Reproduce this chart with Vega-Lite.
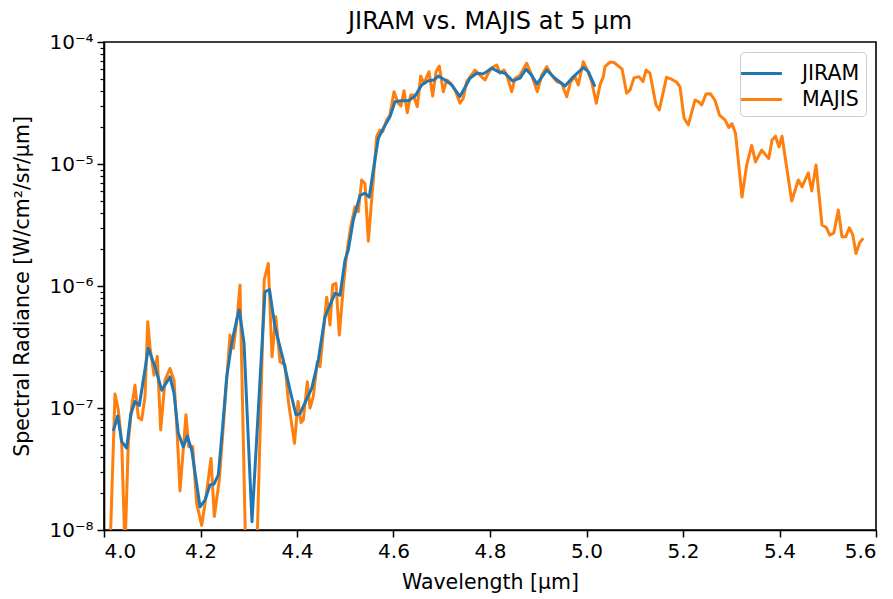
{
  "$schema": "https://vega.github.io/schema/vega-lite/v6.json",
  "width": 772,
  "height": 488,
  "autosize": {"type": "none"},
  "padding": {"left": 104, "top": 42, "right": 17, "bottom": 69},
  "background": "white",
  "title": {"text": "JIRAM vs. MAJIS at 5 μm", "fontSize": 24, "fontWeight": "normal", "font": "DejaVu Sans", "color": "black", "offset": -2},
  "config": {
    "font": "DejaVu Sans",
    "view": {"stroke": "black", "strokeWidth": 1.6},
    "axis": {"domainColor": "black", "domainWidth": 1.6, "tickColor": "black", "tickWidth": 1.5, "labelColor": "black", "titleColor": "black", "labelFontSize": 20, "titleFontSize": 20.5, "titleFontWeight": "normal", "labelFont": "DejaVu Sans", "titleFont": "DejaVu Sans", "tickSize": 7, "grid": false}
  },
  "resolve": {"axis": {"y": "independent"}},
  "layer": [
    {
      "data": {"values": [
        {"series":"MAJIS","wavelength":4.0010,"radiance":3e-9},
        {"series":"MAJIS","wavelength":4.0114,"radiance":5e-9},
        {"series":"MAJIS","wavelength":4.0228,"radiance":1.30e-7},
        {"series":"MAJIS","wavelength":4.0296,"radiance":9.65e-8},
        {"series":"MAJIS","wavelength":4.0367,"radiance":5.17e-8},
        {"series":"MAJIS","wavelength":4.0435,"radiance":7e-9},
        {"series":"MAJIS","wavelength":4.0504,"radiance":5.17e-8},
        {"series":"MAJIS","wavelength":4.0574,"radiance":1.02e-7},
        {"series":"MAJIS","wavelength":4.0642,"radiance":1.54e-7},
        {"series":"MAJIS","wavelength":4.0711,"radiance":8.4e-8},
        {"series":"MAJIS","wavelength":4.0781,"radiance":8.0e-8},
        {"series":"MAJIS","wavelength":4.0850,"radiance":1.24e-7},
        {"series":"MAJIS","wavelength":4.0906,"radiance":5.1e-7},
        {"series":"MAJIS","wavelength":4.0953,"radiance":3.18e-7},
        {"series":"MAJIS","wavelength":4.1036,"radiance":1.86e-7},
        {"series":"MAJIS","wavelength":4.1105,"radiance":2.65e-7},
        {"series":"MAJIS","wavelength":4.1175,"radiance":6.6e-8},
        {"series":"MAJIS","wavelength":4.1264,"radiance":1.69e-7},
        {"series":"MAJIS","wavelength":4.1368,"radiance":2.11e-7},
        {"series":"MAJIS","wavelength":4.1451,"radiance":1.69e-7},
        {"series":"MAJIS","wavelength":4.1513,"radiance":6.6e-8},
        {"series":"MAJIS","wavelength":4.1575,"radiance":2.09e-8},
        {"series":"MAJIS","wavelength":4.1699,"radiance":8.8e-8},
        {"series":"MAJIS","wavelength":4.1755,"radiance":4.83e-8},
        {"series":"MAJIS","wavelength":4.1838,"radiance":4.83e-8},
        {"series":"MAJIS","wavelength":4.1921,"radiance":1.65e-8},
        {"series":"MAJIS","wavelength":4.2025,"radiance":1.09e-8},
        {"series":"MAJIS","wavelength":4.2114,"radiance":1.87e-8},
        {"series":"MAJIS","wavelength":4.2218,"radiance":3.86e-8},
        {"series":"MAJIS","wavelength":4.2286,"radiance":1.29e-8},
        {"series":"MAJIS","wavelength":4.2390,"radiance":2.57e-8},
        {"series":"MAJIS","wavelength":4.2497,"radiance":9.65e-8},
        {"series":"MAJIS","wavelength":4.2611,"radiance":3.96e-7},
        {"series":"MAJIS","wavelength":4.2680,"radiance":3.09e-7},
        {"series":"MAJIS","wavelength":4.2763,"radiance":5.6e-7},
        {"series":"MAJIS","wavelength":4.2819,"radiance":1.02e-6},
        {"series":"MAJIS","wavelength":4.2943,"radiance":5e-9},
        {"series":"MAJIS","wavelength":4.3047,"radiance":3e-9},
        {"series":"MAJIS","wavelength":4.3165,"radiance":6e-9},
        {"series":"MAJIS","wavelength":4.3320,"radiance":1.12e-6},
        {"series":"MAJIS","wavelength":4.3405,"radiance":1.53e-6},
        {"series":"MAJIS","wavelength":4.3482,"radiance":2.63e-7},
        {"series":"MAJIS","wavelength":4.3560,"radiance":5.6e-7},
        {"series":"MAJIS","wavelength":4.3648,"radiance":2.39e-7},
        {"series":"MAJIS","wavelength":4.3751,"radiance":2.25e-7},
        {"series":"MAJIS","wavelength":4.3820,"radiance":1.14e-7},
        {"series":"MAJIS","wavelength":4.3948,"radiance":5.13e-8},
        {"series":"MAJIS","wavelength":4.4021,"radiance":1.13e-7},
        {"series":"MAJIS","wavelength":4.4083,"radiance":7.6e-8},
        {"series":"MAJIS","wavelength":4.4131,"radiance":8.0e-8},
        {"series":"MAJIS","wavelength":4.4214,"radiance":1.64e-7},
        {"series":"MAJIS","wavelength":4.4269,"radiance":1.0e-7},
        {"series":"MAJIS","wavelength":4.4338,"radiance":1.24e-7},
        {"series":"MAJIS","wavelength":4.4421,"radiance":2.39e-7},
        {"series":"MAJIS","wavelength":4.4477,"radiance":2.18e-7},
        {"series":"MAJIS","wavelength":4.4616,"radiance":8.1e-7},
        {"series":"MAJIS","wavelength":4.4684,"radiance":4.79e-7},
        {"series":"MAJIS","wavelength":4.4740,"radiance":1.02e-6},
        {"series":"MAJIS","wavelength":4.4808,"radiance":1.05e-6},
        {"series":"MAJIS","wavelength":4.4877,"radiance":3.96e-7},
        {"series":"MAJIS","wavelength":4.4960,"radiance":9.9e-7},
        {"series":"MAJIS","wavelength":4.5030,"radiance":1.85e-6},
        {"series":"MAJIS","wavelength":4.5109,"radiance":2.99e-6},
        {"series":"MAJIS","wavelength":4.5202,"radiance":4.47e-6},
        {"series":"MAJIS","wavelength":4.5271,"radiance":4.06e-6},
        {"series":"MAJIS","wavelength":4.5341,"radiance":7.4e-6},
        {"series":"MAJIS","wavelength":4.5409,"radiance":6.9e-6},
        {"series":"MAJIS","wavelength":4.5478,"radiance":2.33e-6},
        {"series":"MAJIS","wavelength":4.5569,"radiance":6.5e-6},
        {"series":"MAJIS","wavelength":4.5652,"radiance":1.68e-5},
        {"series":"MAJIS","wavelength":4.5720,"radiance":1.90e-5},
        {"series":"MAJIS","wavelength":4.5776,"radiance":1.84e-5},
        {"series":"MAJIS","wavelength":4.5859,"radiance":2.30e-5},
        {"series":"MAJIS","wavelength":4.5927,"radiance":2.52e-5},
        {"series":"MAJIS","wavelength":4.6010,"radiance":3.91e-5},
        {"series":"MAJIS","wavelength":4.6099,"radiance":3.15e-5},
        {"series":"MAJIS","wavelength":4.6155,"radiance":2.99e-5},
        {"series":"MAJIS","wavelength":4.6218,"radiance":3.99e-5},
        {"series":"MAJIS","wavelength":4.6286,"radiance":2.63e-5},
        {"series":"MAJIS","wavelength":4.6357,"radiance":3.68e-5},
        {"series":"MAJIS","wavelength":4.6410,"radiance":3.68e-5},
        {"series":"MAJIS","wavelength":4.6493,"radiance":2.95e-5},
        {"series":"MAJIS","wavelength":4.6564,"radiance":5.26e-5},
        {"series":"MAJIS","wavelength":4.6632,"radiance":4.59e-5},
        {"series":"MAJIS","wavelength":4.6736,"radiance":5.71e-5},
        {"series":"MAJIS","wavelength":4.6812,"radiance":3.61e-5},
        {"series":"MAJIS","wavelength":4.6881,"radiance":5.71e-5},
        {"series":"MAJIS","wavelength":4.6949,"radiance":6.35e-5},
        {"series":"MAJIS","wavelength":4.7032,"radiance":3.91e-5},
        {"series":"MAJIS","wavelength":4.7103,"radiance":4.88e-5},
        {"series":"MAJIS","wavelength":4.7186,"radiance":4.59e-5},
        {"series":"MAJIS","wavelength":4.7275,"radiance":4.04e-5},
        {"series":"MAJIS","wavelength":4.7378,"radiance":3.15e-5},
        {"series":"MAJIS","wavelength":4.7447,"radiance":3.46e-5},
        {"series":"MAJIS","wavelength":4.7517,"radiance":4.73e-5},
        {"series":"MAJIS","wavelength":4.7689,"radiance":5.89e-5},
        {"series":"MAJIS","wavelength":4.7793,"radiance":5.33e-5},
        {"series":"MAJIS","wavelength":4.7896,"radiance":4.88e-5},
        {"series":"MAJIS","wavelength":4.7965,"radiance":5.55e-5},
        {"series":"MAJIS","wavelength":4.8035,"radiance":6.15e-5},
        {"series":"MAJIS","wavelength":4.8139,"radiance":6.48e-5},
        {"series":"MAJIS","wavelength":4.8207,"radiance":5.55e-5},
        {"series":"MAJIS","wavelength":4.8290,"radiance":5.89e-5},
        {"series":"MAJIS","wavelength":4.8359,"radiance":5.2e-5},
        {"series":"MAJIS","wavelength":4.8450,"radiance":3.91e-5},
        {"series":"MAJIS","wavelength":4.8518,"radiance":5.05e-5},
        {"series":"MAJIS","wavelength":4.8622,"radiance":5.33e-5},
        {"series":"MAJIS","wavelength":4.8761,"radiance":6.7e-5},
        {"series":"MAJIS","wavelength":4.8864,"radiance":5.33e-5},
        {"series":"MAJIS","wavelength":4.8980,"radiance":3.91e-5},
        {"series":"MAJIS","wavelength":4.9071,"radiance":5.33e-5},
        {"series":"MAJIS","wavelength":4.9175,"radiance":6.28e-5},
        {"series":"MAJIS","wavelength":4.9279,"radiance":5.33e-5},
        {"series":"MAJIS","wavelength":4.9382,"radiance":4.73e-5},
        {"series":"MAJIS","wavelength":4.9486,"radiance":4.59e-5},
        {"series":"MAJIS","wavelength":4.9590,"radiance":3.56e-5},
        {"series":"MAJIS","wavelength":4.9673,"radiance":4.73e-5},
        {"series":"MAJIS","wavelength":4.9762,"radiance":5.2e-5},
        {"series":"MAJIS","wavelength":4.9830,"radiance":4.45e-5},
        {"series":"MAJIS","wavelength":4.9934,"radiance":6.9e-5},
        {"series":"MAJIS","wavelength":5.0017,"radiance":5.89e-5},
        {"series":"MAJIS","wavelength":5.0107,"radiance":4.73e-5},
        {"series":"MAJIS","wavelength":5.0203,"radiance":3.15e-5},
        {"series":"MAJIS","wavelength":5.0280,"radiance":4.45e-5},
        {"series":"MAJIS","wavelength":5.0348,"radiance":5.2e-5},
        {"series":"MAJIS","wavelength":5.0383,"radiance":6.28e-5},
        {"series":"MAJIS","wavelength":5.0487,"radiance":6.85e-5},
        {"series":"MAJIS","wavelength":5.0570,"radiance":6.8e-5},
        {"series":"MAJIS","wavelength":5.0632,"radiance":6.48e-5},
        {"series":"MAJIS","wavelength":5.0736,"radiance":6.02e-5},
        {"series":"MAJIS","wavelength":5.0833,"radiance":3.8e-5},
        {"series":"MAJIS","wavelength":5.0902,"radiance":4.04e-5},
        {"series":"MAJIS","wavelength":5.0984,"radiance":5.08e-5},
        {"series":"MAJIS","wavelength":5.1088,"radiance":5.2e-5},
        {"series":"MAJIS","wavelength":5.1171,"radiance":4.73e-5},
        {"series":"MAJIS","wavelength":5.1233,"radiance":5.89e-5},
        {"series":"MAJIS","wavelength":5.1316,"radiance":5.55e-5},
        {"series":"MAJIS","wavelength":5.1440,"radiance":3.05e-5},
        {"series":"MAJIS","wavelength":5.1509,"radiance":2.77e-5},
        {"series":"MAJIS","wavelength":5.1658,"radiance":5.13e-5},
        {"series":"MAJIS","wavelength":5.1751,"radiance":4.98e-5},
        {"series":"MAJIS","wavelength":5.1865,"radiance":4.7e-5},
        {"series":"MAJIS","wavelength":5.1938,"radiance":4.29e-5},
        {"series":"MAJIS","wavelength":5.2021,"radiance":2.38e-5},
        {"series":"MAJIS","wavelength":5.2110,"radiance":2.09e-5},
        {"series":"MAJIS","wavelength":5.2249,"radiance":3.34e-5},
        {"series":"MAJIS","wavelength":5.2317,"radiance":3.24e-5},
        {"series":"MAJIS","wavelength":5.2388,"radiance":3.05e-5},
        {"series":"MAJIS","wavelength":5.2477,"radiance":3.75e-5},
        {"series":"MAJIS","wavelength":5.2570,"radiance":3.76e-5},
        {"series":"MAJIS","wavelength":5.2663,"radiance":3.33e-5},
        {"series":"MAJIS","wavelength":5.2756,"radiance":2.52e-5},
        {"series":"MAJIS","wavelength":5.2870,"radiance":2.30e-5},
        {"series":"MAJIS","wavelength":5.2949,"radiance":1.99e-5},
        {"series":"MAJIS","wavelength":5.3015,"radiance":2.14e-5},
        {"series":"MAJIS","wavelength":5.3088,"radiance":1.79e-5},
        {"series":"MAJIS","wavelength":5.3223,"radiance":5.36e-6},
        {"series":"MAJIS","wavelength":5.3320,"radiance":9.8e-6},
        {"series":"MAJIS","wavelength":5.3424,"radiance":1.42e-5},
        {"series":"MAJIS","wavelength":5.3502,"radiance":1.04e-5},
        {"series":"MAJIS","wavelength":5.3631,"radiance":1.30e-5},
        {"series":"MAJIS","wavelength":5.3778,"radiance":1.11e-5},
        {"series":"MAJIS","wavelength":5.3845,"radiance":1.57e-5},
        {"series":"MAJIS","wavelength":5.3917,"radiance":1.69e-5},
        {"series":"MAJIS","wavelength":5.3990,"radiance":1.38e-5},
        {"series":"MAJIS","wavelength":5.4052,"radiance":1.69e-5},
        {"series":"MAJIS","wavelength":5.4253,"radiance":4.98e-6},
        {"series":"MAJIS","wavelength":5.4390,"radiance":7.4e-6},
        {"series":"MAJIS","wavelength":5.4466,"radiance":6.5e-6},
        {"series":"MAJIS","wavelength":5.4597,"radiance":8.44e-6},
        {"series":"MAJIS","wavelength":5.4668,"radiance":6.0e-6},
        {"series":"MAJIS","wavelength":5.4757,"radiance":9.8e-6},
        {"series":"MAJIS","wavelength":5.4881,"radiance":3.16e-6},
        {"series":"MAJIS","wavelength":5.4970,"radiance":3.02e-6},
        {"series":"MAJIS","wavelength":5.5041,"radiance":2.61e-6},
        {"series":"MAJIS","wavelength":5.5126,"radiance":2.72e-6},
        {"series":"MAJIS","wavelength":5.5219,"radiance":4.19e-6},
        {"series":"MAJIS","wavelength":5.5295,"radiance":2.53e-6},
        {"series":"MAJIS","wavelength":5.5374,"radiance":2.53e-6},
        {"series":"MAJIS","wavelength":5.5447,"radiance":3.0e-6},
        {"series":"MAJIS","wavelength":5.5517,"radiance":2.64e-6},
        {"series":"MAJIS","wavelength":5.5585,"radiance":1.85e-6},
        {"series":"MAJIS","wavelength":5.5662,"radiance":2.27e-6},
        {"series":"MAJIS","wavelength":5.5737,"radiance":2.46e-6}
      ]},
      "mark": {"type": "line", "clip": true, "strokeWidth": 3, "strokeJoin": "round"},
      "encoding": {
        "x": {"field": "wavelength", "type": "quantitative", "scale": {"domain": [4.0, 5.6], "nice": false, "zero": false},
              "axis": {"values": [4.0, 4.2, 4.4, 4.6, 4.8, 5.0, 5.2, 5.4, 5.6], "format": ".1f", "title": "Wavelength [μm]", "labelPadding": 4, "titlePadding": 11}},
        "y": {"field": "radiance", "type": "quantitative", "scale": {"type": "log", "domain": [1e-8, 1e-4], "nice": false},
              "axis": {"orient": "left", "values": [1e-8, 1e-7, 1e-6, 1e-5, 1e-4], "title": "Spectral Radiance [W/cm²/sr/μm]", "labelPadding": 4, "titlePadding": 16,
                       "labelExpr": "datum.value >= 9.9e-5 ? '10⁻⁴' : datum.value >= 9.9e-6 ? '10⁻⁵' : datum.value >= 9.9e-7 ? '10⁻⁶' : datum.value >= 9.9e-8 ? '10⁻⁷' : '10⁻⁸'"}},
        "color": {"field": "series", "type": "nominal", "scale": {"domain": ["JIRAM", "MAJIS"], "range": ["#1f77b4", "#ff7f0e"]},
                  "legend": {"title": null, "orient": "top-right", "offset": 10, "fillColor": "rgba(255,255,255,0.8)", "strokeColor": "#cccccc", "cornerRadius": 4, "padding": 6, "labelFontSize": 20.5, "labelFont": "DejaVu Sans", "labelColor": "black", "symbolType": "M-1.5,0L1.5,0", "symbolSize": 740, "symbolStrokeWidth": 3, "labelOffset": 25, "rowPadding": 0}}
      }
    },
    {
      "data": {"values": [
        {"series":"JIRAM","wavelength":4.0193,"radiance":6.5e-8},
        {"series":"JIRAM","wavelength":4.0284,"radiance":8.6e-8},
        {"series":"JIRAM","wavelength":4.0367,"radiance":5.3e-8},
        {"series":"JIRAM","wavelength":4.0470,"radiance":4.7e-8},
        {"series":"JIRAM","wavelength":4.0553,"radiance":8.8e-8},
        {"series":"JIRAM","wavelength":4.0642,"radiance":1.13e-7},
        {"series":"JIRAM","wavelength":4.0732,"radiance":1.05e-7},
        {"series":"JIRAM","wavelength":4.0918,"radiance":3.09e-7},
        {"series":"JIRAM","wavelength":4.1057,"radiance":2.18e-7},
        {"series":"JIRAM","wavelength":4.1196,"radiance":1.40e-7},
        {"series":"JIRAM","wavelength":4.1368,"radiance":1.80e-7},
        {"series":"JIRAM","wavelength":4.1451,"radiance":1.32e-7},
        {"series":"JIRAM","wavelength":4.1540,"radiance":6.2e-8},
        {"series":"JIRAM","wavelength":4.1644,"radiance":4.8e-8},
        {"series":"JIRAM","wavelength":4.1726,"radiance":5.9e-8},
        {"series":"JIRAM","wavelength":4.1818,"radiance":4.5e-8},
        {"series":"JIRAM","wavelength":4.1990,"radiance":1.55e-8},
        {"series":"JIRAM","wavelength":4.2093,"radiance":1.76e-8},
        {"series":"JIRAM","wavelength":4.2197,"radiance":2.34e-8},
        {"series":"JIRAM","wavelength":4.2280,"radiance":2.38e-8},
        {"series":"JIRAM","wavelength":4.2369,"radiance":2.83e-8},
        {"series":"JIRAM","wavelength":4.2460,"radiance":7.1e-8},
        {"series":"JIRAM","wavelength":4.2543,"radiance":1.80e-7},
        {"series":"JIRAM","wavelength":4.2647,"radiance":3.4e-7},
        {"series":"JIRAM","wavelength":4.2750,"radiance":5.27e-7},
        {"series":"JIRAM","wavelength":4.2803,"radiance":6.35e-7},
        {"series":"JIRAM","wavelength":4.2902,"radiance":3.41e-7},
        {"series":"JIRAM","wavelength":4.3067,"radiance":1.17e-8},
        {"series":"JIRAM","wavelength":4.3337,"radiance":8.97e-7},
        {"series":"JIRAM","wavelength":4.3430,"radiance":9.35e-7},
        {"series":"JIRAM","wavelength":4.3544,"radiance":4.6e-7},
        {"series":"JIRAM","wavelength":4.3716,"radiance":2.47e-7},
        {"series":"JIRAM","wavelength":4.3855,"radiance":1.40e-7},
        {"series":"JIRAM","wavelength":4.3979,"radiance":8.8e-8},
        {"series":"JIRAM","wavelength":4.4062,"radiance":9.0e-8},
        {"series":"JIRAM","wavelength":4.4305,"radiance":1.45e-7},
        {"series":"JIRAM","wavelength":4.4441,"radiance":2.47e-7},
        {"series":"JIRAM","wavelength":4.4580,"radiance":5.6e-7},
        {"series":"JIRAM","wavelength":4.4788,"radiance":8.7e-7},
        {"series":"JIRAM","wavelength":4.4891,"radiance":8.4e-7},
        {"series":"JIRAM","wavelength":4.4995,"radiance":1.63e-6},
        {"series":"JIRAM","wavelength":4.5063,"radiance":1.97e-6},
        {"series":"JIRAM","wavelength":4.5167,"radiance":3.47e-6},
        {"series":"JIRAM","wavelength":4.5306,"radiance":5.52e-6},
        {"series":"JIRAM","wavelength":4.5409,"radiance":5.76e-6},
        {"series":"JIRAM","wavelength":4.5498,"radiance":5.36e-6},
        {"series":"JIRAM","wavelength":4.5581,"radiance":8.9e-6},
        {"series":"JIRAM","wavelength":4.5685,"radiance":1.62e-5},
        {"series":"JIRAM","wavelength":4.5789,"radiance":1.96e-5},
        {"series":"JIRAM","wavelength":4.5927,"radiance":2.44e-5},
        {"series":"JIRAM","wavelength":4.6031,"radiance":3.24e-5},
        {"series":"JIRAM","wavelength":4.6170,"radiance":3.30e-5},
        {"series":"JIRAM","wavelength":4.6307,"radiance":3.30e-5},
        {"series":"JIRAM","wavelength":4.6446,"radiance":3.6e-5},
        {"series":"JIRAM","wavelength":4.6585,"radiance":4.45e-5},
        {"series":"JIRAM","wavelength":4.6721,"radiance":4.82e-5},
        {"series":"JIRAM","wavelength":4.6839,"radiance":4.88e-5},
        {"series":"JIRAM","wavelength":4.6928,"radiance":5.26e-5},
        {"series":"JIRAM","wavelength":4.7067,"radiance":4.88e-5},
        {"series":"JIRAM","wavelength":4.7206,"radiance":4.45e-5},
        {"series":"JIRAM","wavelength":4.7378,"radiance":3.57e-5},
        {"series":"JIRAM","wavelength":4.7585,"radiance":5.05e-5},
        {"series":"JIRAM","wavelength":4.7724,"radiance":5.55e-5},
        {"series":"JIRAM","wavelength":4.7861,"radiance":5.48e-5},
        {"series":"JIRAM","wavelength":4.8035,"radiance":6.1e-5},
        {"series":"JIRAM","wavelength":4.8172,"radiance":5.71e-5},
        {"series":"JIRAM","wavelength":4.8311,"radiance":5.55e-5},
        {"series":"JIRAM","wavelength":4.8466,"radiance":4.8e-5},
        {"series":"JIRAM","wavelength":4.8622,"radiance":5.05e-5},
        {"series":"JIRAM","wavelength":4.8746,"radiance":5.98e-5},
        {"series":"JIRAM","wavelength":4.8864,"radiance":5.33e-5},
        {"series":"JIRAM","wavelength":4.8974,"radiance":4.53e-5},
        {"series":"JIRAM","wavelength":4.9175,"radiance":5.89e-5},
        {"series":"JIRAM","wavelength":4.9347,"radiance":5.05e-5},
        {"series":"JIRAM","wavelength":4.9554,"radiance":4.36e-5},
        {"series":"JIRAM","wavelength":4.9726,"radiance":5.18e-5},
        {"series":"JIRAM","wavelength":4.9934,"radiance":6.18e-5},
        {"series":"JIRAM","wavelength":5.0037,"radiance":5.71e-5},
        {"series":"JIRAM","wavelength":5.0176,"radiance":4.3e-5}
      ]},
      "mark": {"type": "line", "clip": true, "strokeWidth": 3, "strokeJoin": "round"},
      "encoding": {
        "x": {"field": "wavelength", "type": "quantitative", "scale": {"domain": [4.0, 5.6], "nice": false, "zero": false},
              "axis": {"values": [4.0, 4.2, 4.4, 4.6, 4.8, 5.0, 5.2, 5.4, 5.6], "format": ".1f", "title": "Wavelength [μm]", "labelPadding": 4, "titlePadding": 11}},
        "y": {"field": "radiance", "type": "quantitative", "scale": {"type": "log", "domain": [1e-8, 1e-4], "nice": false},
              "axis": {"orient": "left", "values": [2e-8,3e-8,4e-8,5e-8,6e-8,7e-8,8e-8,9e-8,2e-7,3e-7,4e-7,5e-7,6e-7,7e-7,8e-7,9e-7,2e-6,3e-6,4e-6,5e-6,6e-6,7e-6,8e-6,9e-6,2e-5,3e-5,4e-5,5e-5,6e-5,7e-5,8e-5,9e-5], "labels": false, "domain": false, "tickSize": 4, "tickWidth": 1.2, "title": null}},
        "color": {"field": "series", "type": "nominal", "scale": {"domain": ["JIRAM", "MAJIS"], "range": ["#1f77b4", "#ff7f0e"]}}
      }
    }
  ]
}
